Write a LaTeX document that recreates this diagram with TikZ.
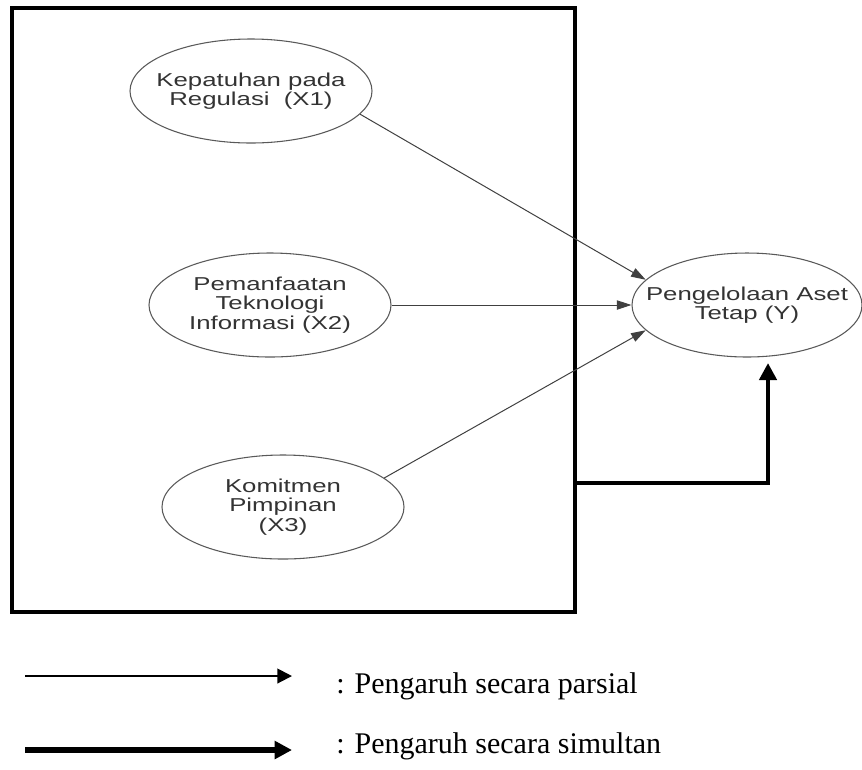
\documentclass[tikz,border=0pt]{standalone}
\usepackage{fontspec}
\setmainfont{Liberation Serif}
\newfontfamily\arialw[FakeStretch=1.38]{Liberation Sans}
\usetikzlibrary{shapes.geometric, arrows.meta}

\begin{document}
\begin{tikzpicture}[x=0.75pt, y=-0.75pt,
  var/.style={ellipse, draw=black!65, line width=0.8pt, minimum width=181.5pt,
    minimum height=78pt, inner xsep=-30pt, inner ysep=-20pt, align=center, text=black!80,
    font=\arialw\fontsize{14}{14.6}\selectfont},
  thinarrow/.style={draw=black!75, line width=0.75pt, -{Triangle[length=11pt,width=7pt]}},
  bigarrow/.style={draw=black, line width=3.4pt, -{Triangle[length=12.75pt,width=12.75pt]}},
  legthin/.style={draw=black, line width=1.5pt, -{Triangle[length=11pt,width=11pt]}},
  legthick/.style={draw=black, line width=4.5pt, -{Triangle[length=13pt,width=13pt]}},
  legtext/.style={anchor=base west, inner sep=0pt, font=\fontsize{22.5}{27}\selectfont}
]
\useasboundingbox (0,0) rectangle (862,769);

\node[draw, line width=3.4pt, minimum width=422.25pt, minimum height=453pt, inner sep=0pt] (box) at (293.5,310) {};

\node[var] (X1) at (251,91) {Kepatuhan pada\\Regulasi~~(X1)};
\node[var] (X2) at (270,305) {Pemanfaatan\\Teknologi\\Informasi (X2)};
\node[var] (X3) at (283,507) {Komitmen\\Pimpinan\\(X3)};
\node[var, minimum width=172.5pt] (Y) at (747,305) {Pengelolaan Aset\\Tetap (Y)};

\draw[thinarrow] (X1.-12) -- (Y.166);
\draw[thinarrow] (X2.east) -- (Y.west);
\draw[thinarrow] (X3.16) -- (Y.194);

\coordinate (jn) at (575,483);
\coordinate (yin) at (768,363);
\draw[bigarrow] (jn) -| (yin);

\coordinate (l1a) at (25,676);
\coordinate (l1b) at (292,676);
\coordinate (l2a) at (25,750);
\coordinate (l2b) at (292,750);
\draw[legthin] (l1a) -- (l1b);
\draw[legthick] (l2a) -- (l2b);
\node[legtext] (t1) at (336,693) {: Pengaruh secara parsial};
\node[legtext] (t2) at (336,753) {: Pengaruh secara simultan};
\end{tikzpicture}
\end{document}
